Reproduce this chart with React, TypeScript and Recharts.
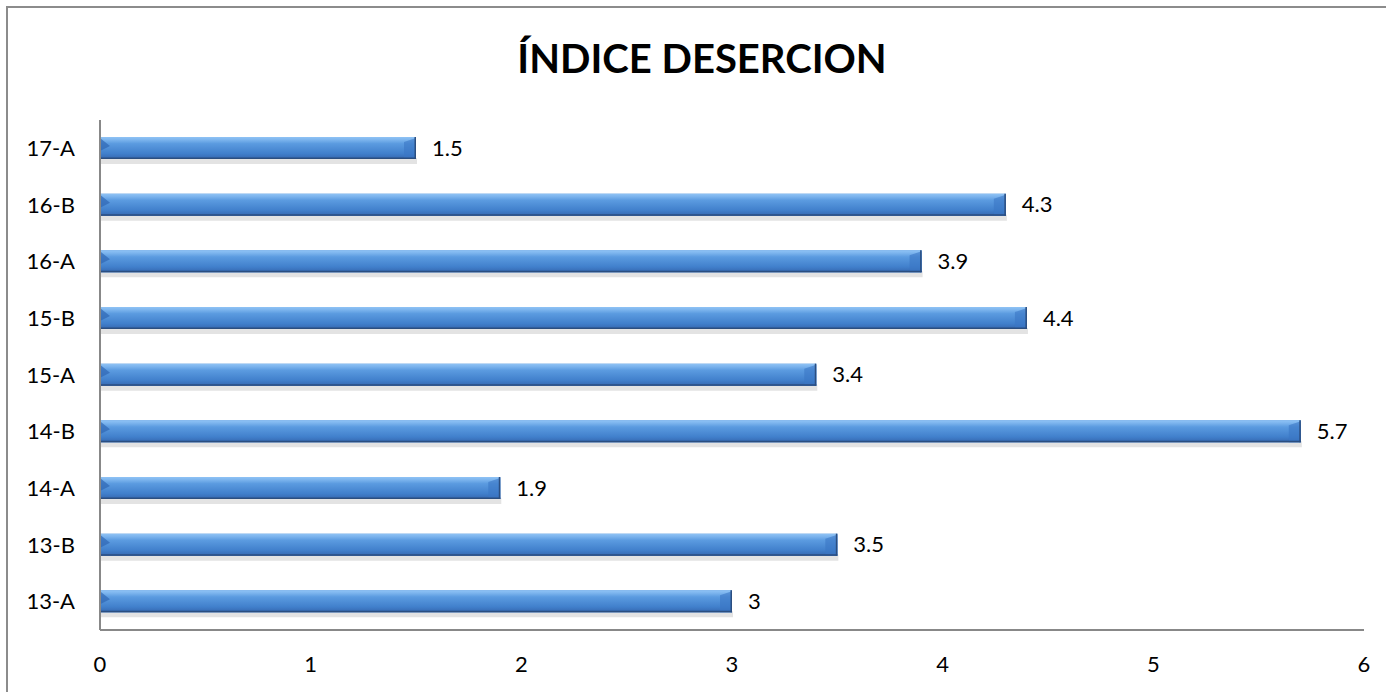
import React from "react";
import { BarChart, Bar, XAxis, YAxis, LabelList } from "recharts";

const categories = ["13-A", "13-B", "14-A", "14-B", "15-A", "15-B", "16-A", "16-B", "17-A"];
const values = [3, 3.5, 1.9, 5.7, 3.4, 4.4, 3.9, 4.3, 1.5];
const xTicks = [0, 1, 2, 3, 4, 5, 6];

const data = categories.map((c, i) => ({ name: c, value: values[i] })).reverse();

const FONT = "Lato, 'Noto Sans', sans-serif";

const boxPath = (x: number, y: number, w: number, h: number) =>
  `M${x},${y} L${x + w},${y} L${x + w},${y + h} L${x},${y + h} Z`;

const BarShape = (props: any) => {
  const { x, y, width, height } = props;
  if (!width || width <= 0) return null;
  const b = 5;
  return (
    <g>
      <path d={boxPath(x + 1, y + height - 1, width, 6)} fill="#c8c8c8" opacity={0.5} />
      <path d={boxPath(x, y, width, height)} fill="#4a88d4" />
      <path d={boxPath(x, y, width, height)} fill="url(#barGrad)" />
      <path d={`M${x},${y + 1} L${x + 10},${y + 9} L${x},${y + 14} Z`} fill="#2f66b3" opacity={0.7} />
      <path d={`M${x + width - 12},${y + b} L${x + width},${y + 1} L${x + width},${y + height} L${x + width - 12},${y + height} Z`} fill="#3b76c4" opacity={0.6} />
      <path d={boxPath(x, y + height - 1.5, width, 1.5)} fill="#2b4e80" />
      <path d={boxPath(x + width - 1.5, y, 1.5, height)} fill="#2b4e80" />
    </g>
  );
};

export default function App() {
  return (
    <div style={{ position: "relative", width: 1386, height: 692, overflow: "hidden", background: "#fff" }}>
      <style>{"html,body{margin:0;padding:0;}"}</style>
      <div style={{ position: "absolute", left: 6, top: 6, width: 1400, height: 2, background: "#8c8c8c" }} />
      <div style={{ position: "absolute", left: 6, top: 6, width: 2, height: 700, background: "#8c8c8c" }} />
      <div
        style={{
          position: "absolute",
          left: 0,
          width: 1404,
          top: 34,
          textAlign: "center",
          fontFamily: FONT,
          fontWeight: 700,
          fontSize: 40,
          lineHeight: "48px",
          color: "#000",
        }}
      >
        ÍNDICE DESERCION
      </div>
      <div style={{ position: "absolute", left: 0, top: 0 }}>
        <BarChart
          width={1386}
          height={692}
          data={data}
          layout="vertical"
          margin={{ top: 120, right: 22, bottom: 0, left: 0 }}
          barSize={22}
        >
          <defs>
            <linearGradient id="barGrad" x1="0" y1="0" x2="0" y2="1">
              <stop offset="0%" stopColor="#8fc3f5" />
              <stop offset="12%" stopColor="#7db5ee" />
              <stop offset="30%" stopColor="#5b9be0" />
              <stop offset="75%" stopColor="#4180cc" />
              <stop offset="100%" stopColor="#3567b0" />
            </linearGradient>
          </defs>
          <XAxis
            type="number"
            domain={[0, 6]}
            ticks={xTicks}
            interval={0}
            height={62}
            tickSize={0}
            tickMargin={26}
            axisLine={{ stroke: "#888888", strokeWidth: 2 }}
            tickLine={false}
            tick={{ fill: "#000", fontSize: 22, fontFamily: FONT }}
          />
          <YAxis
            type="category"
            dataKey="name"
            width={100}
            tickSize={0}
            tickMargin={25}
            axisLine={{ stroke: "#888888", strokeWidth: 2 }}
            tickLine={false}
            tick={{ fill: "#000", fontSize: 22, fontFamily: FONT }}
          />
          <Bar dataKey="value" isAnimationActive={false} shape={<BarShape />}>
            <LabelList
              dataKey="value"
              position="right"
              offset={16}
              style={{ fill: "#000", fontSize: 22, fontFamily: FONT }}
            />
          </Bar>
        </BarChart>
      </div>
    </div>
  );
}
